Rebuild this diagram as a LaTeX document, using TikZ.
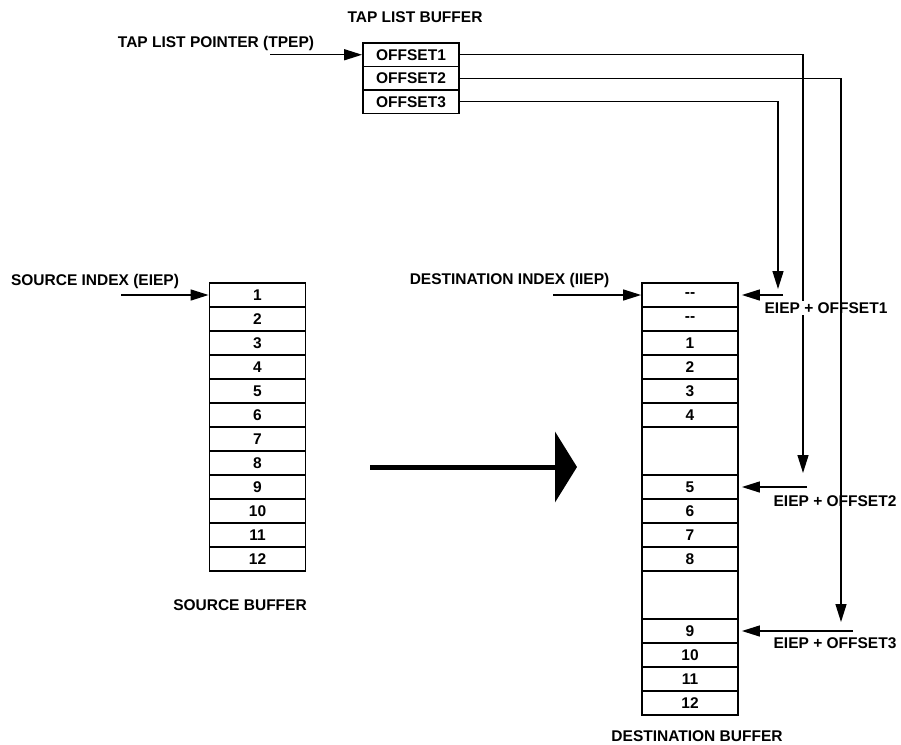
\documentclass[tikz,border=0pt]{standalone}
\usepackage{fontspec}
\setmainfont{Liberation Sans}
\usetikzlibrary{arrows.meta}
\begin{document}
\begin{tikzpicture}[x=1pt,y=-1pt,
  every node/.style={font=\fontsize{15.5}{18}\selectfont\bfseries, inner sep=0pt},
  cell/.style={draw, line width=1.8pt, minimum width=96pt, minimum height=24pt, anchor=center},
  tapcell/.style={cell, minimum height=23.5pt},
  conn/.style={line width=1.4pt},
  tip/.style={-{Triangle[length=18pt,width=11pt]}},
  bigarrow/.style={line width=5pt, -{Triangle[length=22pt,width=70pt]}}]
\useasboundingbox (0,0) rectangle (901,744);

% tap list buffer
\node (taplbl) at (415,17) {TAP LIST BUFFER};
\node[tapcell] (t1) at (411,54.75) {OFFSET1};
\node[tapcell] (t2) at (411,78.25) {OFFSET2};
\node[tapcell] (t3) at (411,101.75) {OFFSET3};
\node (tpeplbl) at (216,43) {TAP LIST POINTER (TPEP)};
\coordinate (tpepstart) at (270,54.75);
\draw[conn,tip] (tpepstart) -- (t1.west);

% source buffer
\foreach \i in {1,...,12}
  \node[cell] (s\i) at (257.5,{271+24*\i}) {\i};
\node (srclbl) at (240,605) {SOURCE BUFFER};
\node (srcidx) at (95,281) {SOURCE INDEX (EIEP)};
\coordinate (srcstart) at (121,295);
\draw[conn,tip] (srcstart) -- (s1.west);

% destination buffer
\node[cell] (d0) at (690,295) {-{}-};
\node[cell] (da) at (690,319) {-{}-};
\foreach \n/\y in {1/343,2/367,3/391,4/415,5/487,6/511,7/535,8/559,9/631,10/655,11/679,12/703}
  \node[cell] (dd\n) at (690,\y) {\n};
\node[cell, minimum height=48pt] (gapa) at (690,451) {};
\node[cell, minimum height=48pt] (gapb) at (690,595) {};
\node (dstlbl) at (697,736) {DESTINATION BUFFER};
\node (dstidx) at (509.5,280) {DESTINATION INDEX (IIEP)};
\coordinate (dststart) at (553,295);
\draw[conn,tip] (dststart) -- (d0.west);

% big arrow
\coordinate (ba1) at (370,467);
\coordinate (ba2) at (577,467);
\draw[bigarrow] (ba1) -- (ba2);

% offset connectors
\coordinate (v1) at (803,473);
\coordinate (v2) at (841,622);
\coordinate (v3) at (778,289);
\coordinate (h1) at (807,487);
\coordinate (h2) at (853,631);
\coordinate (h3) at (783,295);

\draw[conn,tip] (t3.east) -| (v3);
\draw[conn,tip,shorten >=3pt] (h3) -- (d0.east);
\draw[conn,tip] (t1.east) -| (v1);
\node[fill=white, inner sep=2pt] (lab1) at (826,308) {EIEP + OFFSET1};
\draw[conn,tip] (t2.east) -| (v2);
\draw[conn,tip,shorten >=3pt] (h1) -- (dd5.east);
\draw[conn,tip,shorten >=3pt] (h2) -- (dd9.east);
\node (lab2) at (835,501) {EIEP + OFFSET2};
\node (lab3) at (835,643) {EIEP + OFFSET3};
\end{tikzpicture}
\end{document}
